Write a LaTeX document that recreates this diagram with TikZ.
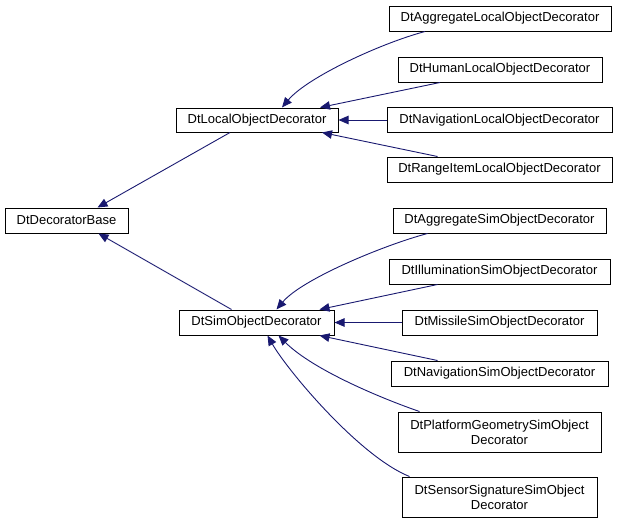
\documentclass[tikz,border=0pt]{standalone}
\usepackage{fontspec}
\setmainfont{Liberation Sans}
\usetikzlibrary{arrows.meta}
\definecolor{edgeblue}{HTML}{191970}
\tikzset{
  cls/.style={draw=black, line width=1pt, fill=white, inner sep=0pt, align=center,
    font=\fontsize{13}{15}\selectfont},
  inh/.style={draw=edgeblue, line width=0.9pt, -{Triangle[length=10pt,width=8.5pt]}, fill=none},
}
\begin{document}
\begin{tikzpicture}[x=1pt,y=-1pt]
\useasboundingbox (0,0) rectangle (619,523);
% nodes
\node[cls, minimum width=123pt, minimum height=25pt] (base) at (66.5,220.5) {DtDecoratorBase};
\node[cls, minimum width=162pt, minimum height=24pt] (local) at (257,120) {DtLocalObjectDecorator};
\node[cls, minimum width=155pt, minimum height=25pt] (sim) at (256.5,322.5) {DtSimObjectDecorator};
\node[cls, minimum width=222pt, minimum height=25pt] (aggl) at (500,18.5) {DtAggregateLocalObjectDecorator};
\node[cls, minimum width=204pt, minimum height=25pt] (huml) at (500,69.5) {DtHumanLocalObjectDecorator};
\node[cls, minimum width=225pt, minimum height=25pt] (navl) at (499.5,120) {DtNavigationLocalObjectDecorator};
\node[cls, minimum width=225pt, minimum height=25pt] (rngl) at (499.5,169.5) {DtRangeItemLocalObjectDecorator};
\node[cls, minimum width=213pt, minimum height=25pt] (aggs) at (499.5,220.5) {DtAggregateSimObjectDecorator};
\node[cls, minimum width=221pt, minimum height=25pt] (ill) at (499.5,271.5) {DtIlluminationSimObjectDecorator};
\node[cls, minimum width=195pt, minimum height=25pt] (mis) at (499.5,322.5) {DtMissileSimObjectDecorator};
\node[cls, minimum width=217pt, minimum height=25pt] (navs) at (499.5,373.5) {DtNavigationSimObjectDecorator};
\node[cls, minimum width=203pt, minimum height=40pt] (plat) at (499.5,432) {DtPlatformGeometrySimObject\\Decorator};
\node[cls, minimum width=195pt, minimum height=40pt] (sens) at (499.5,497) {DtSensorSignatureSimObject\\Decorator};
% edges
\draw[inh] ([xshift=-27pt]local.south) -- ([xshift=31pt]base.north);
\draw[inh] ([xshift=-25pt]sim.north) -- ([xshift=32pt]base.south);
\draw[inh] ([xshift=-75pt]aggl.south) .. controls +(-45,12) and +(25,-30) .. ([xshift=25pt]local.north);
\draw[inh] ([xshift=-60pt]huml.south) -- ([xshift=63pt]local.north);
\draw[inh] (navl.west) -- (local.east);
\draw[inh] ([xshift=-62pt]rngl.north) -- ([xshift=65pt]local.south);
\draw[inh] ([xshift=-72pt]aggs.south) .. controls +(-45,12) and +(25,-30) .. ([xshift=20pt]sim.north);
\draw[inh] ([xshift=-62pt]ill.south) -- ([xshift=63pt]sim.north);
\draw[inh] (mis.west) -- (sim.east);
\draw[inh] ([xshift=-62pt]navs.north) -- ([xshift=63pt]sim.south);
\draw[inh] ([xshift=-80pt]plat.north) .. controls +(-35,-12) and +(35,35) .. ([xshift=22pt]sim.south);
\draw[inh] ([xshift=-90pt]sens.north) .. controls +(-50,-20) and +(20,35) .. ([xshift=11pt]sim.south);
\end{tikzpicture}
\end{document}
